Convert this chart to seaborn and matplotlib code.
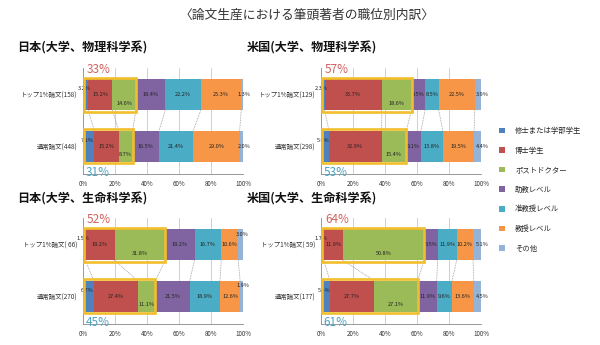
import numpy as np
import pandas as pd
import matplotlib
matplotlib.use("Agg")
import matplotlib.pyplot as plt
import seaborn as sns
from matplotlib.patches import Rectangle, Patch

# ---------------- data ----------------
main_title = "〈論文生産における筆頭著者の職位別内訳〉"
categories = ["修士または学部学生", "博士学生", "ポストドクター", "助教レベル",
              "准教授レベル", "教授レベル", "その他"]
panel_titles = ["日本(大学、物理科学系)", "米国(大学、物理科学系)",
                "日本(大学、生命科学系)", "米国(大学、生命科学系)"]
row_labels = [["トップ1%論文(158)", "通常論文(448)"],
              ["トップ1%論文(129)", "通常論文(298)"],
              ["トップ1%論文( 66)", "通常論文(270)"],
              ["トップ1%論文( 59)", "通常論文(177)"]]
jp_phys_top = [3.2, 15.2, 14.6, 18.4, 22.2, 25.3, 1.3]
jp_phys_norm = [7.1, 15.2, 8.7, 16.5, 21.4, 29.0, 2.0]
us_phys_top = [2.3, 35.7, 18.6, 8.5, 8.5, 22.5, 3.9]
us_phys_norm = [5.0, 32.9, 15.4, 9.1, 13.8, 19.5, 4.4]
jp_life_top = [1.5, 18.2, 31.8, 18.2, 16.7, 10.6, 3.0]
jp_life_norm = [6.7, 27.4, 11.1, 21.5, 18.9, 12.6, 1.9]
us_life_top = [1.7, 11.9, 50.8, 8.5, 11.9, 10.2, 5.1]
us_life_norm = [5.6, 27.7, 27.1, 11.9, 9.6, 13.6, 4.5]
box_top = ["33%", "57%", "52%", "64%"]
box_norm = ["31%", "53%", "45%", "61%"]
x_ticks = [0, 20, 40, 60, 80, 100]
x_ticklabels = ["0%", "20%", "40%", "60%", "80%", "100%"]

panels = [(jp_phys_top, jp_phys_norm), (us_phys_top, us_phys_norm),
          (jp_life_top, jp_life_norm), (us_life_top, us_life_norm)]

# ---------------- style ----------------
colors = ["#4F81BD", "#C0504D", "#9BBB59", "#8064A2", "#4BACC6", "#F79646", "#95B3D7"]
sns.set_style("white")
plt.rcParams["font.family"] = ["Noto Sans CJK JP", "DejaVu Sans"]

W, H = 600, 345
fig = plt.figure(figsize=(6.0, 3.45), dpi=100)

# axes rectangles in pixels: (left, top, right, bottom)
ax_px = [(83, 68, 243, 174), (321, 68, 481, 174),
         (83, 218, 243, 324), (321, 218, 481, 324)]
title_px = [(17, 48), (247, 48), (17, 199), (247, 199)]

fig.text(307 / W, 1 - 15 / H, main_title, ha="center", va="center",
         fontsize=9.2, color="#333333")

for p, ((top, norm), (l, t, r, b)) in enumerate(zip(panels, ax_px)):
    ax = fig.add_axes([l / W, 1 - b / H, (r - l) / W, (b - t) / H])
    df = pd.DataFrame({"row": row_labels[p]})
    cum_top = np.cumsum(top)
    cum_norm = np.cumsum(norm)
    for i in range(len(categories)):
        df[f"c{i}"] = [cum_top[i], cum_norm[i]]
    # stacked bars: draw cumulative totals from the outermost inwards
    for i in reversed(range(len(categories))):
        sns.barplot(data=df, x=f"c{i}", y="row", color=colors[i], orient="h",
                    width=0.6, saturation=1, errorbar=None, ax=ax, zorder=2,
                    linewidth=0)

    ax.set_xlim(0, 100)
    ax.set_ylim(1.54, -0.52)
    ax.set_xlabel("")
    ax.set_ylabel("")
    ax.set_xticks(x_ticks)
    ax.set_xticklabels(x_ticklabels, fontsize=4.5, color="#333333")
    ax.tick_params(axis="x", length=2, width=0.5, color="#999999", pad=2)
    ax.tick_params(axis="y", length=0, pad=4, labelsize=4.6, labelcolor="#333333")
    for s in ["top", "right"]:
        ax.spines[s].set_visible(False)
    for s in ["left", "bottom"]:
        ax.spines[s].set_color("#888888")
        ax.spines[s].set_linewidth(0.6)
    for xv in x_ticks[1:]:
        ax.axvline(xv, color="#C8C8C8", lw=0.6, zorder=0)

    # connector (series) lines
    for k in range(len(categories) - 1):
        ax.plot([cum_top[k], cum_norm[k]], [0.3, 0.7], color="#888888",
                lw=0.5, ls=(0, (1.2, 1.2)), zorder=1)

    # segment labels
    for row, vals in enumerate([top, norm]):
        start = 0.0
        n = len(vals)
        for i, v in enumerate(vals):
            cx = start + v / 2
            dy = 0.0
            if i == 0:
                cx = start + v / 2 - 1.0
                dy = -0.12
            elif i == 2:
                dy = 0.17
            elif i == n - 1:
                if v < 3.5 and vals[i - 1] < 13:
                    cx = start + v / 2 + 1.0
                    dy = -0.2
                else:
                    cx = max(cx, 100.8)
            ax.text(cx, row + dy, f"{v:.1f}%", ha="center", va="center",
                    fontsize=4.0, color="#222222", zorder=3, clip_on=False)
            start += v

    # yellow highlight boxes around first three segments
    for row in range(2):
        ext = [cum_top, cum_norm][row][2]
        ax.add_patch(Rectangle((0.4, row - 0.33), ext - 0.4, 0.66, fill=False,
                               ec="#F2BE2C", lw=1.9, zorder=4, clip_on=False))
    ax.text(2.5, -0.49, box_top[p], ha="left", va="center", fontsize=8.5,
            color="#D0625F", zorder=5)
    ax.text(1.5, 1.52, box_norm[p], ha="left", va="center", fontsize=8.5,
            color="#4FA3C0", zorder=5)

    fig.text(title_px[p][0] / W, 1 - title_px[p][1] / H, panel_titles[p],
             ha="left", va="center", fontsize=8.7, fontweight="bold", color="#111111")

handles = [Patch(facecolor=c, edgecolor="none") for c in colors]
fig.legend(handles, categories, loc="upper left",
           bbox_to_anchor=(496 / W, 1 - 124 / H), frameon=False,
           fontsize=5.3, handlelength=0.8, handleheight=0.8,
           handletextpad=1.4, labelspacing=1.58, borderaxespad=0)

fig.savefig("out.png", dpi=100, facecolor="white")
